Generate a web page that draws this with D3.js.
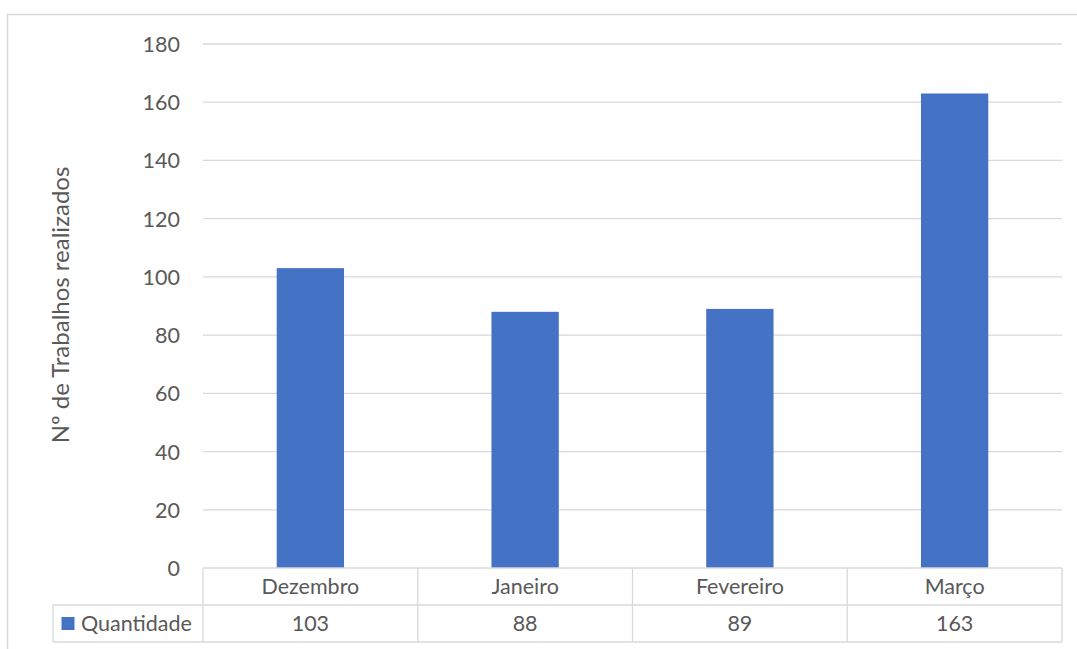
<!DOCTYPE html>
<html>
<head>
<meta charset="utf-8">
<script src="https://cdn.jsdelivr.net/npm/d3@7"></script>
<style>
  body { margin: 0; background: #fff; }
  text { font-family: Lato, "Open Sans", sans-serif; fill: #595959; }
</style>
</head>
<body>
<svg id="canvas" width="1077" height="649"></svg>
<script>
// datos del grafico
const meses = ["Dezembro", "Janeiro", "Fevereiro", "Março"]
const quantidade = [103, 88, 89, 163]
const ticksY = [0, 20, 40, 60, 80, 100, 120, 140, 160, 180]
const serie = "Quantidade"
const tituloY = "Nº de Trabalhos realizados"

const azul = "#4472C4"
const cinza = "#D9D9D9"
const tamLetra = "21.5px"

let canvas = d3.select("#canvas")

// borde exterior del grafico
canvas.append("path")
    .attr("d", "M7.5,649 V14.5 H1077")
    .attr("fill", "none")
    .attr("stroke", cinza)
    .attr("stroke-width", 1.5)

const margen = { left: 203, right: 1062, top: 44, bottom: 568 }

const x = d3.scaleBand()
    .domain(meses)
    .range([margen.left, margen.right])
    .paddingInner(0)

const y = d3.scaleLinear()
    .domain([0, 180])
    .range([margen.bottom, margen.top])

// lineas de la grilla
canvas.append("g")
    .selectAll("line")
    .data(ticksY.slice(1))
    .enter()
    .append("line")
    .attr("x1", margen.left)
    .attr("x2", margen.right)
    .attr("y1", d => y(d))
    .attr("y2", d => y(d))
    .attr("stroke", cinza)
    .attr("stroke-width", 1.3)

// eje y
const ejeY = canvas.append("g")
    .attr("transform", "translate(" + 180 + ",0)")
    .call(d3.axisLeft(y).tickValues(ticksY).tickSize(0).tickPadding(0))
ejeY.select(".domain").remove()
ejeY.selectAll("text")
    .style("font-size", tamLetra)
    .attr("fill", "#595959")
    .attr("dy", "0.35em")

canvas.append("text")
    .attr("transform", "translate(69," + 305 + ") rotate(-90)")
    .attr("text-anchor", "middle")
    .style("font-size", "24px")
    .text(tituloY)

// barras (gap 219%)
const anchoBarra = x.bandwidth() / 3.19
canvas.append("g")
    .selectAll("rect")
    .data(quantidade)
    .enter()
    .append("rect")
    .attr("x", (d, i) => x(meses[i]) + (x.bandwidth() - anchoBarra) / 2)
    .attr("width", anchoBarra)
    .attr("y", d => y(d))
    .attr("height", d => y(0) - y(d))
    .attr("fill", azul)

// tabla de datos
const fila1 = 568, fila2 = 605, fila3 = 642, izqLeyenda = 53
const tabla = canvas.append("g")
    .attr("stroke", cinza)
    .attr("stroke-width", 1.3)
tabla.append("line").attr("x1", margen.left).attr("x2", margen.right).attr("y1", fila1).attr("y2", fila1)
tabla.append("line").attr("x1", izqLeyenda).attr("x2", margen.right).attr("y1", fila2).attr("y2", fila2)
tabla.append("line").attr("x1", izqLeyenda).attr("x2", margen.right).attr("y1", fila3).attr("y2", fila3)
tabla.append("line").attr("x1", izqLeyenda).attr("x2", izqLeyenda).attr("y1", fila2).attr("y2", fila3)
tabla.selectAll("line.v")
    .data(meses.map(m => x(m)).concat([margen.right]))
    .enter()
    .append("line")
    .attr("class", "v")
    .attr("x1", d => d).attr("x2", d => d)
    .attr("y1", fila1).attr("y2", fila3)

canvas.append("g")
    .selectAll("text")
    .data(meses)
    .enter()
    .append("text")
    .attr("x", d => x(d) + x.bandwidth() / 2)
    .attr("y", (fila1 + fila2) / 2)
    .attr("dy", "0.35em")
    .attr("text-anchor", "middle")
    .style("font-size", tamLetra)
    .text(d => d)

canvas.append("g")
    .selectAll("text")
    .data(quantidade)
    .enter()
    .append("text")
    .attr("x", (d, i) => x(meses[i]) + x.bandwidth() / 2)
    .attr("y", (fila2 + fila3) / 2)
    .attr("dy", "0.35em")
    .attr("text-anchor", "middle")
    .style("font-size", tamLetra)
    .text(d => d)

// leyenda
canvas.append("rect")
    .attr("x", 61.5).attr("y", 617)
    .attr("width", 13).attr("height", 13)
    .attr("fill", azul)
canvas.append("text")
    .attr("x", 81)
    .attr("y", (fila2 + fila3) / 2)
    .attr("dy", "0.35em")
    .style("font-size", tamLetra)
    .text(serie)
</script>
</body>
</html>
